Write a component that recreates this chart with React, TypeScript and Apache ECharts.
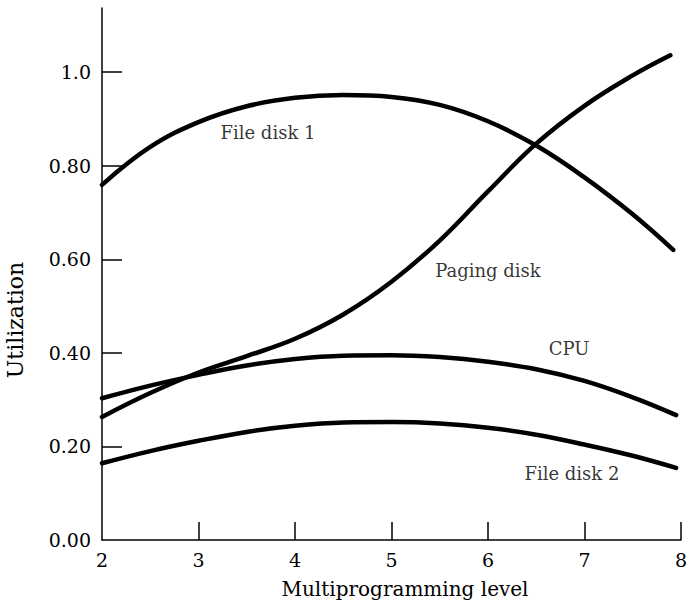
import React, { useEffect, useRef } from "react";
import * as echarts from "echarts";

// Multiprogramming level (x) vs utilization (y)
const fileDisk1: [number, number][] = [
  [2.0, 0.759], [2.5, 0.84], [3.0, 0.893], [3.5, 0.927], [4.0, 0.945], [4.5, 0.951],
  [5.0, 0.947], [5.5, 0.93], [6.0, 0.895], [6.5, 0.843], [7.0, 0.775], [7.5, 0.696], [7.92, 0.62],
];
const pagingDisk: [number, number][] = [
  [2.0, 0.263], [2.5, 0.314], [3.0, 0.358], [3.5, 0.393], [4.0, 0.43], [4.5, 0.482],
  [5.0, 0.552], [5.5, 0.64], [6.0, 0.745], [6.5, 0.847], [7.0, 0.928], [7.5, 0.993], [7.89, 1.036],
];
const cpu: [number, number][] = [
  [2.0, 0.303], [2.5, 0.33], [3.0, 0.353], [3.5, 0.373], [4.0, 0.387], [4.5, 0.394],
  [5.0, 0.395], [5.5, 0.391], [6.0, 0.381], [6.5, 0.365], [7.0, 0.34], [7.5, 0.305], [7.95, 0.267],
];
const fileDisk2: [number, number][] = [
  [2.0, 0.164], [2.5, 0.19], [3.0, 0.212], [3.5, 0.231], [4.0, 0.244], [4.5, 0.251],
  [5.0, 0.252], [5.5, 0.249], [6.0, 0.24], [6.5, 0.225], [7.0, 0.204], [7.5, 0.18], [7.95, 0.154],
];

const seriesNames = ["File disk 1", "Paging disk", "CPU", "File disk 2"];
// label anchor points, in data coordinates
const labelPoints: [number, number, string][] = [
  [3.72, 0.87, "File disk 1"],
  [6.0, 0.577, "Paging disk"],
  [6.84, 0.41, "CPU"],
  [6.87, 0.143, "File disk 2"],
];

const yTickValues = [0, 0.2, 0.4, 0.6, 0.8, 1.0];
const yTickLabels = ["0.00", "0.20", "0.40", "0.60", "0.80", "1.0"];
const xTickValues = [2, 3, 4, 5, 6, 7, 8];

const xAxisTitle = "Multiprogramming level";
const yAxisTitle = "Utilization";

const FONT = "DejaVu Serif";
const INK = "#000";

export default function App() {
  const ref = useRef<HTMLDivElement>(null);
  useEffect(() => {
    if (!ref.current) return;
    const chart = echarts.init(ref.current, undefined, { renderer: "svg" });
    const lineSeries = [fileDisk1, pagingDisk, cpu, fileDisk2].map((d, i) => ({
      name: seriesNames[i],
      type: "line" as const,
      data: d,
      smooth: 0.4,
      symbol: "none",
      lineStyle: { color: "#000", width: 4.5, cap: "round" as const },
      silent: true,
    }));
    chart.setOption({
      animation: false,
      backgroundColor: "#fff",
      grid: { left: 102, right: 2, top: 8, bottom: 67, containLabel: false },
      xAxis: {
        type: "value",
        min: 2,
        max: 8,
        interval: 1,
        splitLine: { show: false },
        axisLine: { show: true, lineStyle: { color: INK, width: 1.5 } },
        axisTick: {
          show: true,
          inside: true,
          length: 18,
          lineStyle: { color: INK, width: 1.5 },
          customValues: xTickValues.slice(1),
        },
        axisLabel: {
          color: INK,
          fontFamily: FONT,
          fontSize: 19,
          margin: 10,
          customValues: xTickValues,
          formatter: (v: number) => String(v),
        },
      },
      yAxis: {
        type: "value",
        min: 0,
        max: 1.137,
        splitLine: { show: false },
        axisLine: { show: true, lineStyle: { color: INK, width: 1.5 } },
        axisTick: {
          show: true,
          inside: true,
          length: 20,
          lineStyle: { color: INK, width: 1.5 },
          customValues: yTickValues.slice(1),
        },
        axisLabel: {
          color: INK,
          fontFamily: FONT,
          fontSize: 19,
          margin: 11,
          customValues: yTickValues,
          formatter: (v: number) => {
            const i = yTickValues.findIndex((t) => Math.abs(t - v) < 1e-6);
            return i >= 0 ? yTickLabels[i] : "";
          },
        },
      },
      series: [
        ...lineSeries,
        {
          type: "scatter",
          data: labelPoints,
          symbolSize: 0,
          silent: true,
          clip: false,
          label: {
            show: true,
            position: "inside",
            color: INK,
            fontFamily: FONT,
            fontSize: 18,
            formatter: (p: any) => p.data[2],
          },
        },
      ],
      graphic: [
        {
          type: "text",
          x: 405,
          y: 589,
          style: {
            text: xAxisTitle,
            fill: INK,
            font: `20px "${FONT}"`,
            textAlign: "center",
            textVerticalAlign: "middle",
          },
        },
        {
          type: "text",
          x: 15,
          y: 320,
          rotation: Math.PI / 2,
          style: {
            text: yAxisTitle,
            fill: INK,
            font: `22px "${FONT}"`,
            textAlign: "center",
            textVerticalAlign: "middle",
          },
        },
      ],
    });
    return () => chart.dispose();
  }, []);
  return (
    <div
      ref={ref}
      style={{ position: "fixed", left: 0, top: 0, width: 690, height: 607 }}
    />
  );
}
